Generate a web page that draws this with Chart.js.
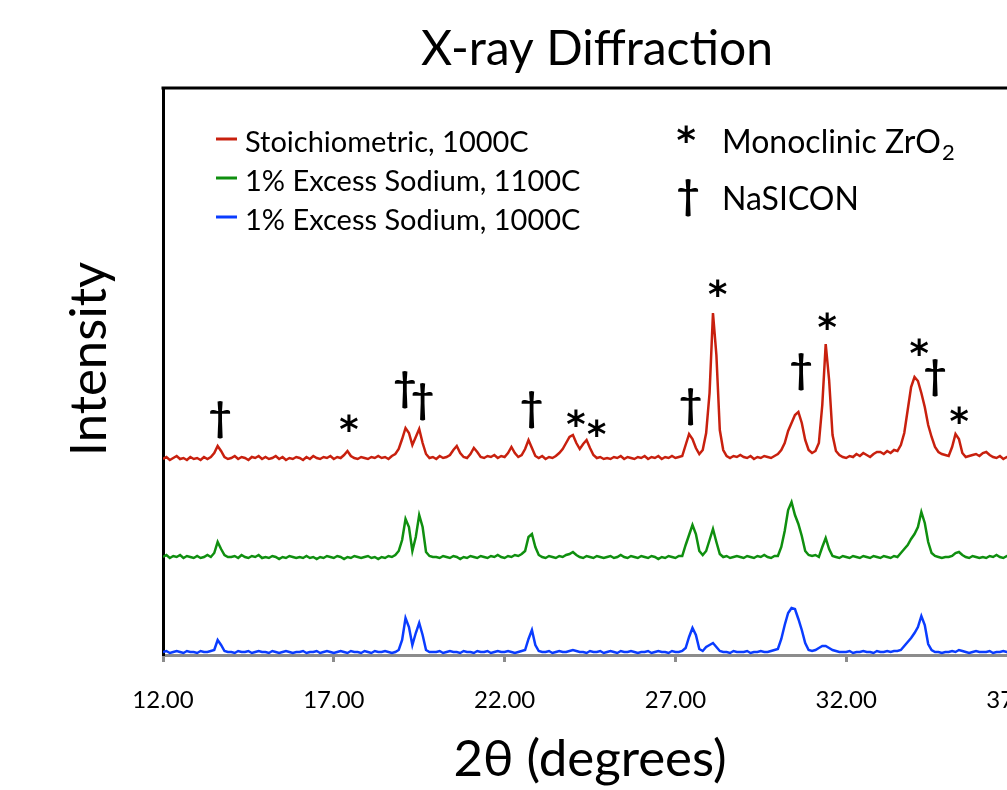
<!DOCTYPE html>
<html>
<head>
<meta charset="utf-8">
<script src="https://cdn.jsdelivr.net/npm/chart.js@4/dist/chart.umd.min.js"></script>
<style>
  html, body { margin: 0; padding: 0; overflow: hidden; background: #fff; }
  #wrap { width: 1194px; height: 790px; }
</style>
</head>
<body>
<div id="wrap"><canvas id="xrd-chart" width="1194" height="790"></canvas></div>
<script>
// 2-theta sampling grid (degrees)
var angleStart = 12.0;
var angleStep = 0.1;

var seriesLabels = ['Stoichiometric, 1000C', '1% Excess Sodium, 1100C', '1% Excess Sodium, 1000C'];
var seriesColors = ['#c8200e', '#0f8f0f', '#0a3cff'];

// intensities (arbitrary units, stacked offsets)
var stoich1000 = [
    196,198,195,197,199,196,197,195,198,196,
    197,195,198,196,198,202,209,204,198,196,
    197,199,196,198,197,195,198,197,199,196,
    198,196,197,199,196,198,195,197,196,198,
    197,195,198,196,199,197,196,198,197,199,
    196,198,197,200,204,199,197,196,198,197,
    196,198,197,199,197,198,196,199,201,206,
    216,227,222,210,218,226,212,201,197,198,
    196,199,197,198,200,205,209,202,198,197,
    201,207,203,198,197,199,198,200,197,199,
    198,202,208,202,198,200,206,215,207,199,
    197,199,196,198,197,199,202,206,212,218,
    220,212,206,211,215,207,200,197,198,196,
    197,196,198,197,199,196,198,197,196,198,
    197,199,196,198,197,199,196,198,197,199,
    197,198,199,210,221,216,207,201,205,222,
    262,342,300,225,205,199,197,199,198,200,
    198,197,199,196,198,197,199,198,197,199,
    201,205,212,224,232,240,243,232,215,205,
    202,204,212,250,311,275,220,204,200,198,
    197,199,198,201,199,202,200,198,201,203,
    203,201,204,202,205,204,210,222,245,268,
    278,274,262,248,230,218,208,203,201,200,
    199,208,221,216,202,198,199,200,201,199,
    202,203,200,198,197,199,196,198,197,196,
    197
];
var excess1100 = [
    98,100,97,99,98,100,97,99,98,97,
    99,97,98,100,98,102,113,106,100,98,
    98,99,97,100,98,97,99,98,100,97,
    98,97,99,98,96,98,97,99,98,97,
    98,97,99,97,98,96,98,97,99,98,
    97,99,98,96,98,97,99,98,97,98,
    99,97,98,96,98,97,99,98,100,104,
    115,136,128,104,118,140,128,103,99,98,
    98,97,99,98,97,99,98,96,98,97,
    99,98,97,99,98,97,99,98,100,98,
    97,99,98,100,99,101,104,118,121,108,
    100,98,97,99,98,97,99,98,100,101,
    103,100,98,97,99,98,97,99,98,97,
    98,99,97,98,100,98,97,99,98,97,
    99,98,97,99,98,96,98,97,99,98,
    97,99,99,110,120,130,121,104,100,104,
    115,126,113,101,98,99,97,98,99,98,
    97,99,98,97,99,98,100,98,97,99,
    99,108,124,145,153,140,131,119,104,100,
    99,100,98,108,117,106,99,98,97,99,
    98,97,99,98,97,99,98,97,99,98,
    97,99,98,97,99,98,102,106,110,116,
    121,128,143,132,113,102,99,98,97,98,
    98,99,102,103,100,98,97,99,98,97,
    98,97,99,98,100,98,97,99,98,97,
    98
];
var excess1000 = [
    3,4,2,3,4,3,2,4,3,3,
    2,4,3,3,4,5,15,10,4,3,
    3,2,4,3,3,4,2,3,4,3,
    3,2,4,3,2,3,4,3,2,3,
    3,4,2,3,3,4,2,3,4,3,
    2,3,4,3,2,4,3,3,2,4,
    3,2,4,3,3,4,3,2,3,5,
    15,37,28,10,22,32,20,5,3,3,
    3,4,2,3,4,3,3,2,4,3,
    3,2,4,3,3,4,2,3,4,3,
    3,4,3,2,3,4,5,16,25,10,
    4,3,3,4,2,3,4,3,3,4,
    5,4,3,3,2,4,3,3,4,2,
    3,4,3,2,4,3,3,4,3,2,
    3,3,4,2,3,4,3,3,2,4,
    3,3,4,7,18,27,20,6,4,8,
    10,12,8,4,3,3,2,4,3,3,
    3,4,2,3,3,4,3,3,4,5,
    6,16,30,42,47,46,36,25,12,5,
    4,5,7,9,9,7,5,4,3,3,
    3,4,2,3,3,4,3,3,2,4,
    3,3,4,3,4,4,5,9,13,17,
    22,28,39,30,11,5,3,3,2,3,
    3,4,3,5,4,3,2,3,4,3,
    3,3,4,2,3,3,4,3,2,3,
    3
];

// peak labels: * monoclinic ZrO2, † NaSICON
var markerSymbols = ['\u2020', '*', '\u2020', '\u2020', '\u2020', '*', '*', '\u2020', '*', '\u2020', '*', '*', '\u2020', '*'];
var markerAngles  = [13.67, 17.44, 19.08, 19.60, 22.79, 24.08, 24.69, 27.44, 28.23, 30.68, 31.44, 34.13, 34.60, 35.30];
var markerHeights = [235, 232, 265, 253, 245, 237, 227, 248, 367, 283, 334, 308, 277, 240];

var FONT = 'Lato, "Open Sans", sans-serif';
var STAR_FONT = 'bold 37px "DejaVu Sans", sans-serif';
var DAGGER_FONT = 'bold 40px ' + FONT;

function toPoints(values) {
    var pts = [];
    for (var i = 0; i < values.length; i++) {
        pts.push({ x: +(angleStart + i * angleStep).toFixed(2), y: values[i] });
    }
    return pts;
}

// draw a glyph centred on its ink box
function drawCentered(ctx, text, x, y) {
    ctx.textAlign = 'left';
    ctx.textBaseline = 'alphabetic';
    var m = ctx.measureText(text);
    var w = m.actualBoundingBoxRight + m.actualBoundingBoxLeft;
    var h = m.actualBoundingBoxAscent + m.actualBoundingBoxDescent;
    ctx.fillText(text, x - w / 2 + m.actualBoundingBoxLeft, y + h / 2 - m.actualBoundingBoxDescent);
}

var xrdDecor = {
    id: 'xrdDecor',
    beforeDatasetsDraw: function (chart) {
        var ctx = chart.ctx, a = chart.chartArea;
        ctx.save();
        ctx.strokeStyle = '#000';
        ctx.lineWidth = 3;
        ctx.beginPath();
        ctx.moveTo(a.left - 1.5, a.top);
        ctx.lineTo(a.right, a.top);
        ctx.stroke();
        ctx.restore();
    },
    afterDraw: function (chart) {
        var ctx = chart.ctx;
        var xs = chart.scales.x, ys = chart.scales.y;
        ctx.save();
        ctx.fillStyle = '#000';

        // chart title
        ctx.font = '48px ' + FONT;
        ctx.textAlign = 'center';
        ctx.textBaseline = 'middle';
        ctx.fillText('X-ray Diffraction', 597, 50);

        // y axis title
        ctx.save();
        ctx.translate(90, 359);
        ctx.rotate(-Math.PI / 2);
        ctx.font = '51px ' + FONT;
        ctx.fillText('Intensity', 0, 0);
        ctx.restore();

        // peak symbols
        for (var i = 0; i < markerSymbols.length; i++) {
            var s = markerSymbols[i];
            ctx.font = s === '*' ? STAR_FONT : DAGGER_FONT;
            drawCentered(ctx, s, xs.getPixelForValue(markerAngles[i]), ys.getPixelForValue(markerHeights[i]));
        }

        // series legend
        ctx.font = '29px ' + FONT;
        for (var k = 0; k < seriesLabels.length; k++) {
            var ly = 139 + k * 39;
            ctx.strokeStyle = seriesColors[k];
            ctx.lineWidth = 3;
            ctx.beginPath();
            ctx.moveTo(216, ly);
            ctx.lineTo(237, ly);
            ctx.stroke();
            ctx.textAlign = 'left';
            ctx.textBaseline = 'alphabetic';
            ctx.fillText(seriesLabels[k], 245, ly + 13);
        }

        // phase key
        ctx.font = STAR_FONT;
        drawCentered(ctx, '*', 686, 134);
        ctx.font = DAGGER_FONT;
        drawCentered(ctx, '\u2020', 688, 198);
        ctx.font = '32px ' + FONT;
        ctx.textAlign = 'left';
        ctx.textBaseline = 'alphabetic';
        ctx.fillText('Monoclinic ZrO', 722, 153);
        var w = ctx.measureText('Monoclinic ZrO').width;
        ctx.font = '22px ' + FONT;
        ctx.fillText('2', 722 + w + 1, 160);
        ctx.font = '32px ' + FONT;
        ctx.fillText('NaSICON', 722, 210);
        ctx.restore();
    }
};

var ctxXrd = document.querySelector('#xrd-chart').getContext('2d');
var xrdChart = new Chart(ctxXrd, {
    type: 'line',
    data: {
        datasets: [
            { label: seriesLabels[0], data: toPoints(stoich1000), borderColor: seriesColors[0], borderWidth: 2.5, pointRadius: 0, fill: false },
            { label: seriesLabels[1], data: toPoints(excess1100), borderColor: seriesColors[1], borderWidth: 2.5, pointRadius: 0, fill: false },
            { label: seriesLabels[2], data: toPoints(excess1000), borderColor: seriesColors[2], borderWidth: 2.5, pointRadius: 0, fill: false }
        ]
    },
    options: {
        responsive: false,
        animation: false,
        layout: { padding: { left: 0, right: 177, top: 88, bottom: 0 } },
        plugins: {
            legend: { display: false },
            tooltip: { enabled: false },
            title: { display: false }
        },
        scales: {
            x: {
                type: 'linear',
                min: 12,
                max: 37,
                afterFit: function (scale) { scale.height = 135; },
                afterBuildTicks: function (scale) {
                    scale.ticks = [12, 17, 22, 27, 32, 37].map(function (v) { return { value: v }; });
                },
                ticks: {
                    color: '#000',
                    font: { family: FONT, size: 24, lineHeight: 3.2 },
                    padding: 0,
                    maxRotation: 0,
                    autoSkip: false,
                    callback: function (v) { return v.toFixed(2); }
                },
                grid: { drawOnChartArea: false, drawTicks: true, tickLength: 7, color: '#8c8c8c', lineWidth: 3 },
                border: { display: true, color: '#8c8c8c', width: 3 },
                title: {
                    display: true,
                    text: '2\u03b8 (degrees)',
                    color: '#000',
                    font: { family: FONT, size: 51 },
                    padding: { top: 0, bottom: 0 }
                }
            },
            y: {
                min: 0,
                max: 567,
                afterFit: function (scale) { scale.width = 163; },
                ticks: { display: false },
                grid: { display: false },
                border: { display: true, color: '#000', width: 3 }
            }
        }
    },
    plugins: [xrdDecor]
});
</script>
</body>
</html>
